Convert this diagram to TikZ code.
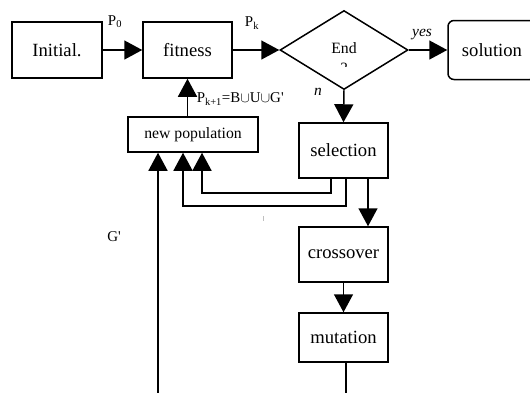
\documentclass[tikz,border=0pt]{standalone}
\usepackage{fontspec}
\setmainfont{Liberation Serif}
\usetikzlibrary{arrows.meta,shapes.geometric,calc}

\begin{document}
\begin{tikzpicture}[x=1bp,y=-1bp,
  line width=1.5bp,
  stepbox/.style={draw, rectangle, inner sep=0, font=\fontsize{18.7}{22}\selectfont},
  arr/.style={-{Triangle[length=18bp,width=19bp]}},
  lbl/.style={inner sep=0, font=\fontsize{15}{17}\selectfont},
  ilbl/.style={inner sep=0, font=\fontsize{15.5}{18}\selectfont\itshape},
]
\useasboundingbox (0,0) rectangle (530,392);

% process boxes
\node[stepbox, minimum width=90bp, minimum height=56bp] (init) at (57,50) {Initial.};
\node[stepbox, minimum width=89bp, minimum height=56bp] (fit) at (187.5,50) {fitness};
\node[draw, diamond, inner sep=0, minimum width=128bp, minimum height=79bp] (dec) at (344,50) {};
\node[inner sep=0, font=\fontsize{15.8}{18}\selectfont] (endt) at (344,48) {End};
\begin{scope}
  \clip (320,55) rectangle (370,66);
  \node[inner sep=0, font=\fontsize{15.8}{18}\selectfont] (endq) at (344,68) {?};
\end{scope}
\node[stepbox, rounded corners=6bp, minimum width=88bp, minimum height=59bp] (sol) at (492,50) {solution};
\node[stepbox, minimum width=89bp, minimum height=55bp] (sel) at (343.5,150.5) {selection};
\node[stepbox, minimum width=89bp, minimum height=55bp] (cro) at (343.5,254.5) {crossover};
\node[stepbox, minimum width=89bp, minimum height=49bp] (mut) at (343.5,337.5) {mutation};
\node[stepbox, minimum width=130bp, minimum height=35bp, font=\fontsize{15.8}{18}\selectfont] (newp) at (193,134.5) {new population};

% labels
\node[lbl] (p0) at (115,22) {P\textsubscript{0}};
\node[lbl] (pk) at (252,23) {P\textsubscript{k}};
\node[ilbl] (yes) at (422,35) {yes};
\node[ilbl] (no) at (318,92) {n};
\node[lbl, anchor=west] (pk1) at (196,99) {P\textsubscript{k+1}=B$\cup$U$\cup$G\textquotesingle};
\node[lbl] (gp) at (114,237) {G\textquotesingle};

% free ends and bends
\coordinate (mutend) at (346,400);
\coordinate (gend) at (158,400);
\coordinate (s1) at (331,193);
\coordinate (s2) at (346,206);
\coordinate (n1) at (202,193);
\coordinate (n2) at (183,206);

% main flow
\draw[arr] (init.east) -- (fit.west);
\draw[arr] (fit.east) -- (dec.west);
\draw[arr] (dec.east) -- (sol.west);
\draw[arr] (dec.south) -- (sel.north);
\draw[arr] ($(sel.south)+(24.5,0)$) -- ($(cro.north)+(24.5,0)$);
\draw[arr] (cro.south) -- (mut.north);
\draw (mut.south -| mutend) -- (mutend);

% feedback into new population
\draw[arr] (sel.south -| s1) -- (s1) -- (n1) -- (newp.south -| n1);
\draw[arr] (sel.south -| s2) -- (s2) -- (n2) -- (newp.south -| n2);
\draw[arr] (gend) -- (newp.south -| gend);
\draw[arr] (fit.south |- newp.north) -- (fit.south);

% small stray tick
\draw[gray!50, line width=0.5bp] (263,216) -- (263,221);
\end{tikzpicture}
\end{document}
